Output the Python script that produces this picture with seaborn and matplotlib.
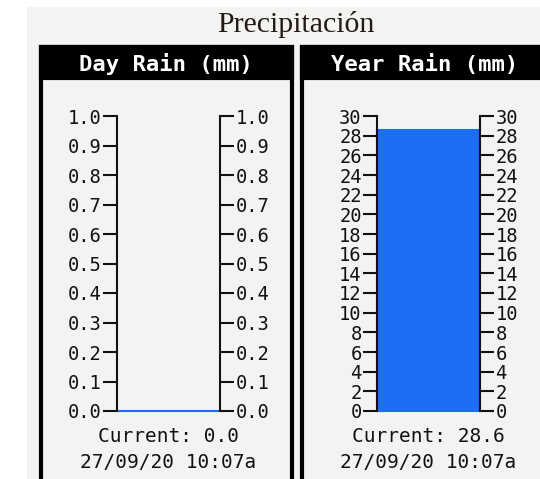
import matplotlib
matplotlib.use("Agg")
import matplotlib.pyplot as plt
from matplotlib.patches import Rectangle
import seaborn as sns
import pandas as pd

sns.set_style("ticks")
plt.rcParams['font.family'] = ['DejaVu Sans Mono', 'DejaVu Sans']

title = "Precipitación"
panel_titles = ["Day Rain (mm)", "Year Rain (mm)"]
current_values = [0.0, 28.6]
y_max = [1.0, 30]
y_ticks = [[0.0, 0.1, 0.2, 0.3, 0.4, 0.5, 0.6, 0.7, 0.8, 0.9, 1.0],
           list(range(0, 31, 2))]
tick_fmt = ["{:.1f}", "{:d}"]
timestamp = "27/09/20 10:07a"

W, H = 540, 479
BG = "#f3f4f2"
BLUE = "#1c6ef4"

fig = plt.figure(figsize=(W / 100, H / 100), dpi=100)
fig.patch.set_facecolor("white")


def fx(x):
    return x / W


def fy(y):
    return 1 - y / H


def rect(x0, y0, x1, y1, **kw):
    fig.patches.append(Rectangle((fx(x0), fy(y1)), fx(x1 - x0), (y1 - y0) / H,
                                 transform=fig.transFigure, figure=fig,
                                 zorder=-5, **kw))


# page background
rect(27, 7, 545, 485, facecolor=BG, edgecolor="none")
fig.text(fx(296), fy(25), title, ha="center", va="center", fontsize=21.5,
         family=["Liberation Serif", "DejaVu Serif"], color="#221a14")

# panel frames (left, right px) and axes box (left, right, top px)
panels = [
    dict(x0=41, x1=292, hx=166, ax=(117, 220, 116), size=13.5),
    dict(x0=302, x1=545, hx=425, ax=(377, 480, 116), size=13.5),
]
bottom_px = 411

for i, p in enumerate(panels):
    rect(p["x0"], 47, p["x1"], 490, facecolor=BG, edgecolor="black", linewidth=3)
    rect(p["x0"], 47, p["x1"], 78, facecolor="black", edgecolor="black", linewidth=3)
    fig.text(fx(p["hx"]), fy(64), panel_titles[i], ha="center", va="center",
             fontsize=16, fontweight="bold", color="white")

    l, r, t = p["ax"]
    ax = fig.add_axes([fx(l), fy(bottom_px), fx(r - l), (bottom_px - t) / H])
    ax.set_facecolor(BG)
    df = pd.DataFrame({"k": [panel_titles[i]], "v": [current_values[i]]})
    sns.barplot(data=df, x="k", y="v", ax=ax, color=BLUE, saturation=1,
                width=1.0, edgecolor=BLUE, linewidth=1.5)
    for bar in ax.patches:
        bar.set_clip_on(False)
    ax.set_xlim(-0.5, 0.5)
    ax.set_ylim(0, y_max[i])
    ax.set_xticks([])
    ax.set_xlabel("")
    ax.set_ylabel("")
    ax.set_yticks(y_ticks[i])
    ax.set_yticklabels([tick_fmt[i].format(v) for v in y_ticks[i]])
    ax.tick_params(axis="y", left=True, right=True, labelleft=True, labelright=True,
                   direction="out", length=10, width=1.5, pad=1,
                   labelsize=p["size"], colors="#111111")
    for side in ["top", "bottom"]:
        ax.spines[side].set_visible(False)
    for side in ["left", "right"]:
        ax.spines[side].set_linewidth(1.5)
        ax.spines[side].set_color("#111111")

    mx = (l + r) / 2
    fig.text(fx(mx), fy(437), "Current: {:.1f}".format(current_values[i]),
             ha="center", va="center", fontsize=14, color="#111111")
    fig.text(fx(mx), fy(463), timestamp, ha="center", va="center",
             fontsize=14, color="#111111")

fig.savefig("out.png", dpi=100, facecolor=fig.get_facecolor())
